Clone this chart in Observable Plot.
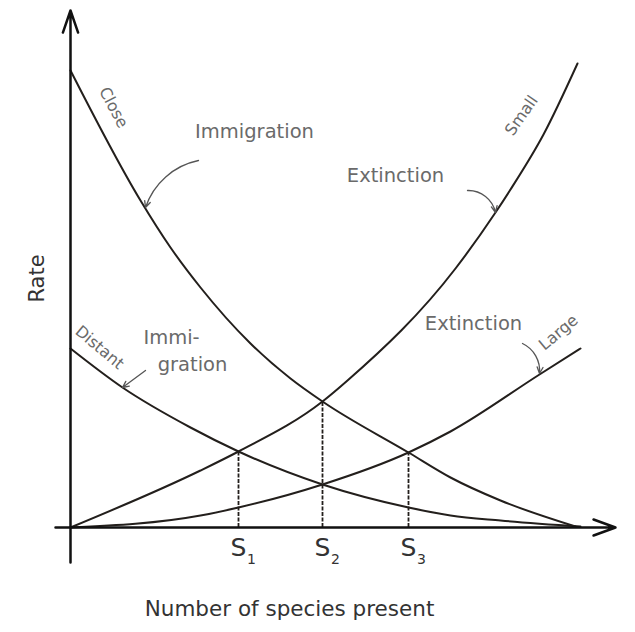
<!DOCTYPE html>
<html><head><meta charset="utf-8">
<script src="https://cdn.jsdelivr.net/npm/d3@7"></script>
<script src="https://cdn.jsdelivr.net/npm/@observablehq/plot@0.6"></script>
<style>body{margin:0;background:#fff}</style>
</head><body><div id="chart"></div>
<script>
// Curves: [species present, rate] (arbitrary units)
const immigrationClose = [[0,91.4],[14,65.4],[20,56],[26,48],[36,36.8],[44,29.8],[50.4,25.2],[67.6,15],[76,10],[86,5.4],[101,0.2]];
const immigrationDistant = [[0,35.8],[10.4,28],[24,20],[33.6,15.2],[50.4,8.6],[67.6,4],[76,2.4],[86,1.4],[102,0.2]];
const extinctionSmall = [[0,0],[26,11.4],[33.6,15.2],[50.4,25.2],[55.4,29.4],[77,51.8],[85,63],[88,67.6],[94.6,78.6],[101.4,92.8]];
const extinctionLarge = [[0,0],[26,2.4],[33.6,4],[50.4,8.6],[67.6,15],[76,19.2],[93.8,30.6],[102,35.8]];

// Equilibria
const sSubscripts = ["1","2","3"];
const sValues = [33.6, 50.4, 67.6];
const sRates = [15.2, 25.2, 15.0];

// Annotation labels
const curveLabels = ["Close","Distant","Small","Large"];
const curveLabelX = [8.6, 5.8, 90.2, 97.6];
const curveLabelY = [84, 36, 82.4, 39];
const curveLabelAngle = [62, 40, -55, -40];

const rateLabels = ["Immigration","Extinction","Immi-","gration","Extinction"];
const rateLabelX = [36.8, 65, 20.2, 24.4, 80.6];
const rateLabelY = [79.2, 70.4, 38, 32.6, 40.8];

// Pointer arrows: from label to curve
const pointerFrom = [[25.6,73.4],[79.4,67.4],[15,31.4],[90.4,36.8]];
const pointerTo = [[15,64],[85,63],[10.4,28],[93.8,30.8]];
const pointerBend = [-30, 40, 0, 35];

const font = "DejaVu Sans";
const ink = "#231f1c";
const gray = "#6a6a6a";

const sTable = sValues.map((s, i) => ({s, r: sRates[i], sub: sSubscripts[i]}));
const curveLab = curveLabels.map((t, i) => ({t, x: curveLabelX[i], y: curveLabelY[i], a: curveLabelAngle[i]}));
const rateLab = rateLabels.map((t, i) => ({t, x: rateLabelX[i], y: rateLabelY[i]}));
const pointerMarks = pointerFrom.map((f, i) =>
  Plot.arrow([{x1: f[0], y1: f[1], x2: pointerTo[i][0], y2: pointerTo[i][1]}],
    {x1: "x1", y1: "y1", x2: "x2", y2: "y2", bend: pointerBend[i], stroke: "#555", strokeWidth: 1.3, headLength: 8, headAngle: 50}));

const chart = Plot.plot({
  width: 635, height: 632,
  marginLeft: 55, marginRight: 20, marginTop: 10, marginBottom: 70,
  x: {domain: [-3, 109], axis: null},
  y: {domain: [-7, 103.4], axis: null},
  style: {fontFamily: font, background: "#fff"},
  marks: [
    Plot.ruleX(sTable, {x: "s", y1: 0, y2: "r", stroke: ink, strokeWidth: 1.8, strokeDasharray: "4,1.5"}),
    Plot.line(immigrationClose, {x: d => d[0], y: d => d[1], curve: "monotone-x", stroke: ink, strokeWidth: 2}),
    Plot.line(immigrationDistant, {x: d => d[0], y: d => d[1], curve: "monotone-x", stroke: ink, strokeWidth: 2}),
    Plot.line(extinctionSmall, {x: d => d[0], y: d => d[1], curve: "monotone-x", stroke: ink, strokeWidth: 2}),
    Plot.line(extinctionLarge, {x: d => d[0], y: d => d[1], curve: "monotone-x", stroke: ink, strokeWidth: 2}),
    Plot.arrow([{x1: 0, y1: -7, x2: 0, y2: 103.4}], {x1: "x1", y1: "y1", x2: "x2", y2: "y2", stroke: "#111", strokeWidth: 2.5, headLength: 14, headAngle: 38}),
    Plot.arrow([{x1: -3, y1: 0, x2: 109, y2: 0}], {x1: "x1", y1: "y1", x2: "x2", y2: "y2", stroke: "#111", strokeWidth: 2.5, headLength: 14, headAngle: 40}),
    ...pointerMarks,
    Plot.text(curveLab, {x: "x", y: "y", text: "t", rotate: "a", fill: gray, fontSize: 16}),
    Plot.text(rateLab, {x: "x", y: "y", text: "t", fill: gray, fontSize: 19.5}),
    Plot.text(sTable, {x: "s", y: -4, text: () => "S", fill: "#333", fontSize: 25}),
    Plot.text(sTable, {x: "s", y: -6.4, dx: 13, text: "sub", fill: "#333", fontSize: 14}),
    Plot.text(["Rate"], {x: -6.6, y: 49.8, text: d => d, rotate: -90, fill: "#333", fontSize: 21}),
    Plot.text(["Number of species present"], {x: 43.8, y: -16.4, text: d => d, fill: "#333", fontSize: 21.5})
  ]
});
document.getElementById("chart").appendChild(chart);
</script>
</body></html>
